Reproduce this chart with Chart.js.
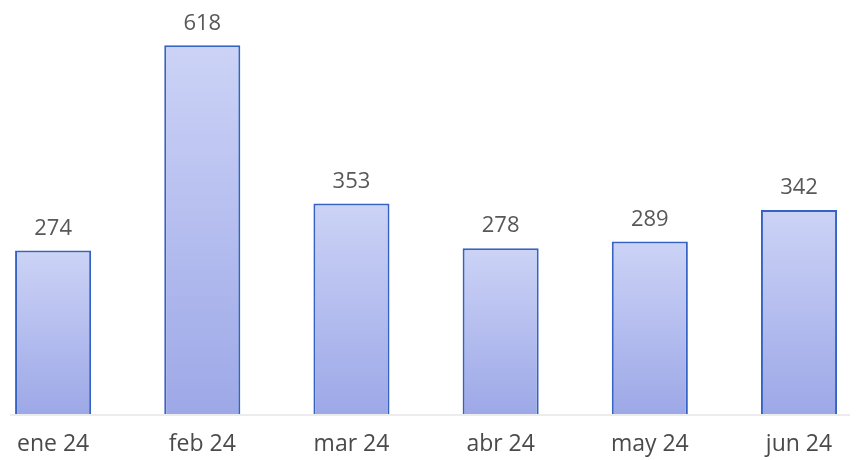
<!DOCTYPE html>
<html>
<head>
<meta charset="utf-8">
<script src="https://cdn.jsdelivr.net/npm/chart.js@4.4.1/dist/chart.umd.min.js"></script>
<style>
  html, body { margin: 0; padding: 0; background: #fff; }
  #wrap { width: 859px; height: 460px; }
</style>
</head>
<body>
<div id="wrap"><canvas id="barChart" width="859" height="460"></canvas></div>
<script>
// Datos del gráfico
const meses = ["ene 24", "feb 24", "mar 24", "abr 24", "may 24", "jun 24"]
const valores = [274, 618, 353, 278, 289, 342]

// Degradado por barra (claro arriba, más intenso abajo)
function barGradient(context) {
  const chart = context.chart
  const area = chart.chartArea
  if (!area) return "#b4bdef"
  const y = chart.scales.y
  const top = y.getPixelForValue(context.raw)
  const bottom = y.getPixelForValue(0)
  const g = chart.ctx.createLinearGradient(0, top, 0, bottom)
  g.addColorStop(0, "#ccd3f6")
  g.addColorStop(1, "#9da8e7")
  return g
}

// Etiquetas de valor encima de cada barra + línea base tenue
const valueLabels = {
  id: "valueLabels",
  beforeDatasetsDraw(chart) {
    const ctx = chart.ctx
    const base = chart.scales.y.getPixelForValue(0)
    ctx.save()
    ctx.strokeStyle = "#e6e6e6"
    ctx.lineWidth = 1.5
    ctx.beginPath()
    ctx.moveTo(10, base + 1)
    ctx.lineTo(850, base + 1)
    ctx.stroke()
    ctx.restore()
  },
  afterDatasetsDraw(chart) {
    const ctx = chart.ctx
    const meta = chart.getDatasetMeta(0)
    ctx.save()
    ctx.fillStyle = "#585858"
    ctx.font = "22px 'Open Sans', sans-serif"
    ctx.textAlign = "center"
    ctx.textBaseline = "middle"
    meta.data.forEach((bar, i) => {
      ctx.fillText(String(valores[i]), bar.x, bar.y - 22)
    })
    ctx.restore()
  },
}

new Chart(document.getElementById("barChart"), {
  type: "bar",
  data: {
    labels: meses,
    datasets: [
      {
        data: valores,
        backgroundColor: barGradient,
        borderColor: "#3563c3",
        borderWidth: 2,
        borderSkipped: "bottom",
        categoryPercentage: 1,
        barPercentage: 0.51,
        clip: false,
      },
    ],
  },
  options: {
    responsive: false,
    animation: false,
    layout: { padding: { left: 52, right: 60, top: 0, bottom: 0 } },
    plugins: {
      legend: { display: false },
      tooltip: { enabled: false },
    },
    scales: {
      x: {
        offset: false,
        grid: { display: false, drawTicks: false },
        border: { display: false },
        ticks: {
          padding: 17,
          color: "#4a4a4a",
          font: { family: "'Open Sans', sans-serif", size: 23 },
        },
        afterFit: (scale) => {
          scale.height = 46
        },
      },
      y: {
        display: false,
        min: 0,
        max: 694,
      },
    },
  },
  plugins: [valueLabels],
})
</script>
</body>
</html>
